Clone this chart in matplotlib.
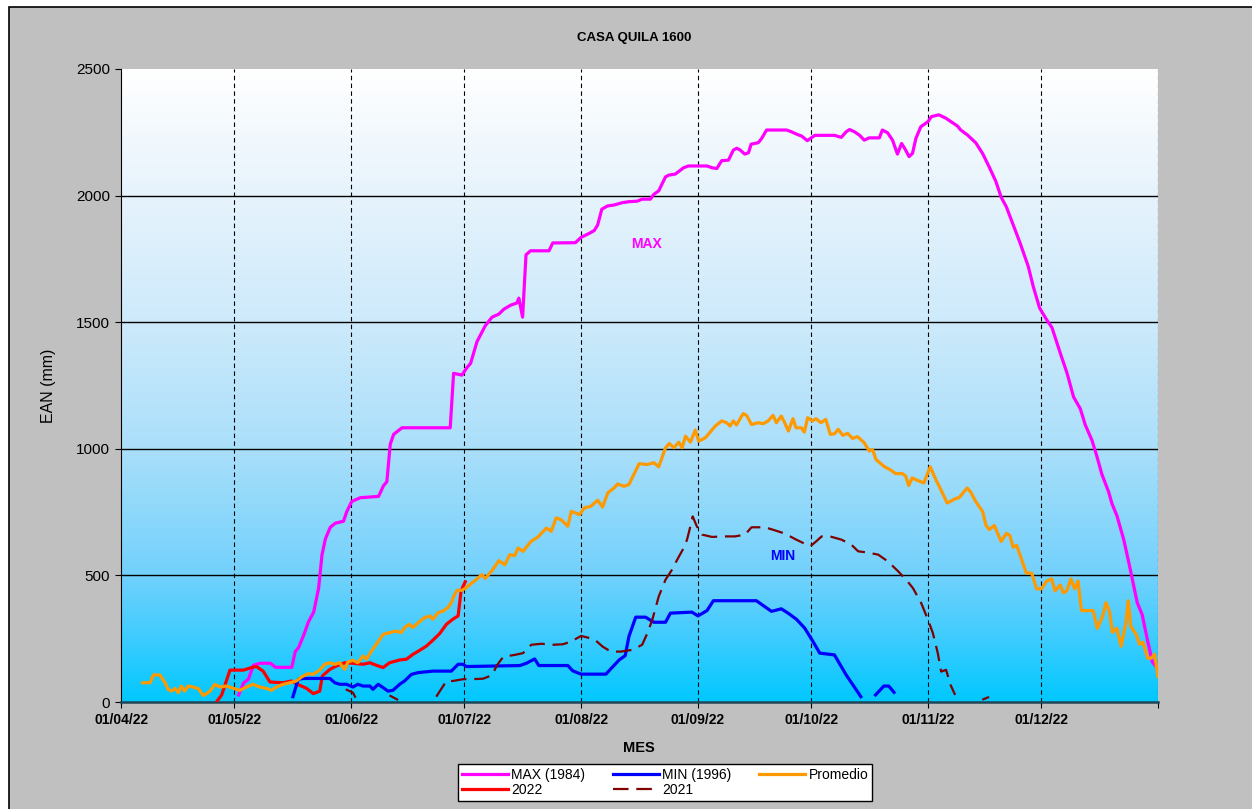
import numpy as np
import pandas as pd
import matplotlib
matplotlib.use("Agg")
import matplotlib.pyplot as plt
from matplotlib.patches import Rectangle
from matplotlib.colors import LinearSegmentedColormap

# ============================================================
# CASA QUILA 1600 - EAN (mm), temporada 2022
# dias contados desde el 01/04/22
# ============================================================

plt.rcParams["font.family"] = ["Liberation Sans", "DejaVu Sans"]

START = pd.Timestamp("2022-04-01")

# -----------------------------
# Datos
# -----------------------------
max_days = [31.2, 32.5, 33.8, 35.1, 36.9, 39.6, 41, 45.3, 46.2, 47.1, 48.4, 49.7, 51.1, 52.4,
            53.3, 54.2, 55.5, 56.8, 59, 59.9, 61.2, 63.5, 68.3, 69.6, 70.5, 71.4, 72.3, 74.5,
            87.3, 88.2, 90.4, 91.8, 92.7, 94.4, 96.6, 98.4, 100.2, 101.5, 103.3, 105, 105.5,
            106.5, 107.4, 108.6, 113.5, 114.5, 120.5, 122, 124.2, 125.5, 126.4, 127.5, 129,
            130.8, 132.9, 134.7, 136.9, 138.2, 140.4, 141.3, 142.6, 144.4, 145.3, 147, 149.2,
            150.5, 155.4, 156.7, 158, 159.3, 161.1, 162.4, 163.3, 164.2, 165.4, 166.4, 167.1,
            169, 169.9, 171.2, 176.5, 177.8, 179.1, 180.5, 182, 184, 189.2, 191, 192.3, 193.2,
            194.5, 195.8, 197.1, 198.4, 201.1, 201.9, 203.3, 204.6, 205.2, 205.9, 207, 207.8,
            209, 209.9, 210.8, 212.1, 214, 214.9, 216.9, 218.7, 221.8, 222.7, 224.5, 226.7,
            228.5, 230.3, 232, 233.4, 234.8, 236.6, 238.4, 240.6, 241.9, 243.6, 245.5, 246.9,
            249.1, 250.9, 252.6, 254.4, 255.7, 257.5, 258.8, 260.1, 261.9, 262.8, 264.1, 265.9,
            267.3, 268.6, 269.5, 270.8, 272.1, 273.5, 274.4]
max_vals = [28, 75, 90, 145, 153, 153, 137, 137, 199, 215, 262, 316, 355, 449,
            581, 644, 690, 706, 714, 753, 792, 807, 812, 854, 870, 1018, 1057, 1083,
            1083, 1298, 1291, 1322, 1337, 1423, 1486, 1520, 1532, 1551, 1567, 1576, 1595,
            1520, 1766, 1782, 1782, 1813, 1814, 1835, 1851, 1862, 1884, 1946, 1959,
            1963, 1972, 1976, 1978, 1986, 1986, 2005, 2019, 2074, 2081, 2085, 2110,
            2117, 2117, 2110, 2107, 2138, 2140, 2180, 2187, 2180, 2164, 2169, 2203,
            2209, 2226, 2259, 2259, 2252, 2243, 2235, 2217, 2238, 2238, 2230, 2252, 2261,
            2252, 2239, 2219, 2228, 2228, 2259, 2248, 2219, 2193, 2164, 2206, 2187,
            2154, 2167, 2226, 2272, 2292, 2312, 2319, 2306, 2275, 2259, 2239, 2208,
            2166, 2111, 2056, 1994, 1955, 1884, 1814, 1720, 1642, 1556, 1509, 1478,
            1377, 1298, 1205, 1158, 1095, 1033, 970, 900, 830, 783, 736, 642,
            548, 455, 392, 345, 252, 158, 142]

min_days = [45.6, 47, 48.4, 55.4, 56.7, 58, 59.8, 61.5, 62.8, 64.2, 66, 66.8, 68.2, 69.5,
            70.8, 72.1, 73.9, 75.2, 77, 78.8, 81.4, 82.7, 87.6, 89.4, 90.7, 91.6, 105.8,
            107.5, 109.7, 110.8, 118.5, 119.8, 122, 128.6, 129.9, 132.1, 133.7, 134.7, 136.5,
            139.1, 141.3, 144.4, 145.7, 151.4, 153, 155.4, 157.1, 168.5, 170.3, 172.5, 175.1,
            176.9, 179.1, 181.3, 183.5, 185.3, 189.2, 192.3, 194.4, 196.2, 198,
            200.1, 202.3, 203.6, 205]
min_vals = [21, 90, 93, 93, 76, 70, 70, 59, 70, 63, 63, 50, 70, 57,
            43, 46, 70, 83, 109, 116, 120, 122, 122, 149, 149, 140, 144,
            153, 170, 144, 144, 123, 110, 110, 131, 166, 183, 259, 335,
            335, 315, 315, 351, 355, 340, 361, 400, 400, 381, 358, 368,
            351, 327, 292, 239, 193, 186, 107, 61, 21, np.nan,
            28, 63, 63, 38]

prom_days = [5.7, 7.7, 8.6, 10.3, 11.7, 12.5, 13.4, 14.3, 15.2, 16, 16.9, 17.8, 19.1, 20.5,
             21.8, 22.7, 23.6, 24.9, 26.2, 28, 29.8, 31.5, 33.3, 35, 36.8, 38.6, 39.9, 41.2,
             43, 44.8, 46.5, 47.9, 49.6, 50.9, 52.7, 54, 55.4, 56.7, 58, 59.3, 60.2, 61.5,
             62.8, 64.2, 65.1, 66.4, 67.7, 69.5, 71.2, 73, 74.3, 75.2, 76.5, 77.4, 78.8, 80.5,
             81.9, 82.7, 84.1, 85.4, 86.7, 87.6, 88.3, 89.1, 90.4, 91.3, 93.9, 95.7, 96.6,
             98.4, 100.2, 101.8, 103.1, 104.4, 105.3, 106.6, 108.8, 110.6, 111.4, 112.8, 114.1,
             115.4, 116.7, 118.5, 119.4, 121.6, 122.9, 124.6, 126.4, 127.7, 129.1, 130.8,
             131.7, 133.4, 134.7, 137.4, 139.6, 141.3, 142.6, 144.4, 145.4, 146.6, 147.9,
             148.8, 149.7, 151, 152.3, 153.2, 155, 157.6, 159.3, 160.6, 161.5, 162.4, 163.2,
             165, 165.9, 167.2, 169, 170.3, 171.6, 172.9, 173.8, 175.1, 176, 177, 178.2, 179,
             180.4, 181.2, 182.1, 183.4, 184.3, 185.6, 186.9, 188.1, 189.2, 190.2, 191.4,
             192.7, 194, 195.3, 197.1, 198.4, 199.3, 200.2, 202.3, 204.1, 205.4, 207.2, 208.1,
             208.9, 209.8, 211.1, 212.9, 214.6, 216, 217.3, 219.1, 221.7, 222.2, 224.4, 225.3,
             226.7, 228.5, 229.4, 230.3, 231.6, 233.4, 234.8, 235.7, 236.6, 237.5, 238.8,
             240.1, 241.5, 242.8, 244.1, 245.5, 246.8, 247.7, 249.1, 249.9, 250.8, 251.9,
             252.9, 253.8, 254.7, 256.2, 257.8, 258.9, 260.3, 261.2, 262.1, 262.9, 264.1,
             265.2, 266.5, 267.1, 267.8, 269.2, 270.1, 271, 272.3, 273.2, 274.1, 275]
prom_vals = [76, 76, 107, 107, 76, 50, 43, 54, 37, 63, 43, 63, 59, 53,
             26, 33, 43, 70, 59, 63, 54, 46, 59, 70, 59, 54, 46, 59,
             70, 76, 83, 99, 112, 109, 126, 149, 155, 149, 155, 129, 158, 165,
             155, 182, 169, 201, 228, 267, 274, 280, 274, 294, 307, 294, 313, 333,
             340, 327, 353, 359, 373, 392, 420, 441, 441, 449, 480, 503, 488,
             519, 558, 542, 582, 578, 608, 595, 635, 652, 665, 687, 674,
             727, 720, 694, 753, 740, 767, 773, 797, 770, 826, 846,
             861, 852, 859, 941, 938, 945, 929, 1004, 1021, 1004, 1026,
             1004, 1050, 1026, 1074, 1030, 1044, 1090, 1110, 1103, 1090, 1110, 1094,
             1139, 1132, 1096, 1103, 1099, 1110, 1132, 1103, 1129, 1103, 1070, 1119, 1083,
             1083, 1066, 1123, 1110, 1119, 1103, 1116, 1057, 1059, 1077, 1053,
             1061, 1041, 1048, 1024, 991, 997, 958, 931, 916, 902, 902, 892,
             855, 885, 876, 865, 929, 881, 842, 786, 806, 806, 845, 830,
             791, 752, 697, 681, 697, 634, 666, 658, 611, 619, 564,
             509, 509, 447, 447, 478, 486, 439, 462, 431, 439, 486,
             447, 478, 361, 361, 361, 291, 338, 392, 361, 275, 291,
             220, 314, 400, 298, 267, 228, 236, 173, 173, 189, 100]

y2022_days = [25.5, 26.7, 28.9, 32.5, 34.6, 35.9, 37.7, 39.5, 43, 45.2, 46.5, 49.2, 51, 52.7,
              53.4, 55.4, 57.1, 59.3, 61.5, 64.2, 66, 67.7, 69.5, 71.2, 73.9, 75.7, 77.4, 79.2,
              81, 82.7, 84.5, 86.3, 88, 89.4, 90.2, 91.3]
y2022_vals = [4, 28, 126, 126, 136, 140, 122, 79, 76, 83, 72, 54, 33, 43,
              103, 129, 142, 155, 153, 149, 155, 145, 136, 155, 166, 169, 188, 204,
              221, 244, 270, 307, 327, 340, 440, 475]

y2021_days = [59.6, 61.5, 62.2, 66, 71.2, 73.5, 78, 83.6, 86.3, 88, 90.7, 92.9, 96, 98.4,
              99.7, 101.4, 104.4, 106.6, 108.8, 111.5, 114.5, 117.2, 119.4, 122, 125.5, 127.7,
              129.9, 132.5, 135.6, 138.2, 139.6, 140.9, 142.6, 144.4, 146.1, 147.5, 149.2,
              150.1, 151, 151.6, 152.7, 154.1, 156.7, 160.2, 162.8, 165.5, 167.2, 170.8, 173.4,
              176.1, 178.7, 180.9, 182.8, 184.4, 185.8, 188, 191.1, 193.7, 195.5, 197.7, 200.8,
              203.4, 206.1, 208.2, 210, 212.2, 214, 215.3, 216.6, 217.5, 218.8, 220, 221.2,
              225, 228.4, 230.2]
y2021_vals = [50, 37, 17, np.nan, 26, 8, np.nan, 21, 83, 83, 90, 90, 92, 106,
              145, 179, 186, 193, 226, 230, 226, 228, 239, 261, 248, 219,
              199, 199, 206, 226, 272, 325, 417, 483, 522, 562, 608,
              641, 694, 733, 694, 661, 652, 654, 654, 661, 690, 690, 678,
              665, 644, 628, 615, 635, 654, 654, 641, 621, 595, 591, 582,
              555, 516, 483, 450, 391, 325, 272, 193, 120, 127, 67, 28,
              np.nan, 9, 20]

month_starts = pd.date_range("2022-04-01", "2023-01-01", freq="MS")
month_pos = [(d - START).days for d in month_starts]
month_labels = [d.strftime("%d/%m/%y") for d in month_starts[:-1]] + [""]

y_ticks = [0, 500, 1000, 1500, 2000, 2500]

# -----------------------------
# Figura
# -----------------------------
W, H = 1252, 809
fig = plt.figure(figsize=(W / 100, H / 100), dpi=100, facecolor="white")
fig.patches.append(Rectangle((9 / W, -0.01), 1.1, (H - 7) / H + 0.01,
                             transform=fig.transFigure, facecolor="#C0C0C0",
                             edgecolor="black", linewidth=1.2, zorder=-10))

ax = fig.add_axes([121 / W, 1 - 702 / H, (1158 - 121) / W, (702 - 69) / H])
ax.set_xlim(0, month_pos[-1])
ax.set_ylim(0, 2500)

# degradado blanco -> celeste (no lineal, como en Excel)
cmap = LinearSegmentedColormap.from_list(
    "fondo",
    [(0.0, "#00C8FF"), (0.1, "#3ECCFE"), (0.2, "#72D1FC"), (0.4, "#AADFFA"),
     (0.6, "#CDEAFB"), (0.8, "#E6F3FC"), (1.0, "#FFFFFF")])
grad = np.linspace(0, 1, 256).reshape(-1, 1)
ax.imshow(grad, cmap=cmap, aspect="auto", origin="lower",
          extent=[0, month_pos[-1], 0, 2500], zorder=0)

for y in y_ticks[1:-1]:
    ax.axhline(y, color="black", lw=1.0, zorder=1)
for x in month_pos[1:]:
    ax.axvline(x, color="black", lw=0.8, ls=(0, (4, 3)), zorder=1)

ax.plot(max_days, max_vals, color="#FF00FF", lw=2.3, label="MAX (1984)", zorder=3)
ax.plot(y2022_days, y2022_vals, color="#FF0000", lw=2.3, label="2022", zorder=3)
ax.plot(min_days, min_vals, color="#0000FF", lw=2.3, label="MIN (1996)", zorder=3)
ax.plot(y2021_days, y2021_vals, color="#800000", lw=1.6, ls=(0, (7, 3.5)),
        label="2021", zorder=3)
ax.plot(prom_days, prom_vals, color="#FF9900", lw=2.3, label="Promedio", zorder=3)

ax.text(139.3, 1809, "MAX", color="#FF00FF", fontsize=10, fontweight="bold",
        ha="center", va="center", zorder=4)
ax.text(175.4, 578, "MIN", color="#0000FF", fontsize=10, fontweight="bold",
        ha="center", va="center", zorder=4)

ax.set_xticks(month_pos)
ax.set_xticklabels(month_labels, fontsize=10, fontweight="bold")
ax.set_yticks(y_ticks)
ax.set_yticklabels([str(v) for v in y_ticks], fontsize=11)
ax.tick_params(direction="out", length=4, width=0.8, colors="black", pad=4)

for side in ["top", "right"]:
    ax.spines[side].set_visible(False)
ax.spines["left"].set_color("black")
ax.spines["bottom"].set_color("#1E4656")
ax.spines["bottom"].set_linewidth(1.8)

ax.set_ylabel("EAN (mm)", fontsize=11.5, labelpad=14)
fig.text(639 / W, 1 - 748 / H, "MES", fontsize=10.5, fontweight="bold",
         ha="center", va="center")
fig.text(634 / W, 1 - 38 / H, "CASA QUILA 1600", fontsize=9.5, fontweight="bold",
         ha="center", va="center")

leg = fig.legend(loc="center", bbox_to_anchor=(665 / W, 1 - 782.5 / H), ncol=3,
                 fontsize=10, frameon=True, fancybox=False, handlelength=3.3,
                 handletextpad=0.25, columnspacing=2.0, labelspacing=0.1,
                 borderpad=0.3)
leg.get_frame().set_edgecolor("black")
leg.get_frame().set_linewidth(1.0)
leg.get_frame().set_facecolor("white")
leg.get_frame().set_alpha(1)

fig.savefig("out.png", dpi=100, facecolor=fig.get_facecolor())
